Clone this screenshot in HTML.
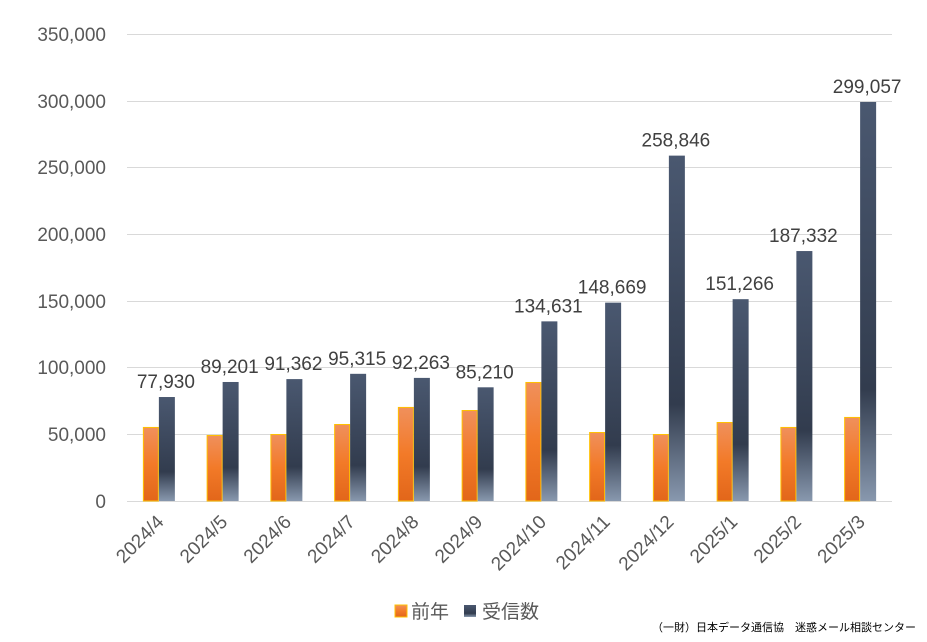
<!DOCTYPE html>
<html><head><meta charset="utf-8"><style>
body{margin:0;background:#fff;}
svg{display:block;font-family:"Liberation Sans","Noto Sans CJK JP",sans-serif;}
</style></head><body>
<svg width="927" height="642" viewBox="0 0 927 642" xmlns="http://www.w3.org/2000/svg">
<defs>
<linearGradient id="dk" x1="0" y1="0" x2="0" y2="1">
<stop offset="0" stop-color="#4a5870"/>
<stop offset="0.72" stop-color="#323c4e"/>
<stop offset="1" stop-color="#8898ae"/>
</linearGradient>
<linearGradient id="or" x1="0" y1="0" x2="0" y2="1">
<stop offset="0" stop-color="#f0905c"/>
<stop offset="0.5" stop-color="#f27a28"/>
<stop offset="1" stop-color="#e2661a"/>
</linearGradient>
<linearGradient id="lg" x1="0" y1="0" x2="0" y2="1">
<stop offset="0" stop-color="#4a5870"/>
<stop offset="0.7" stop-color="#323c4e"/>
<stop offset="1" stop-color="#8898ae"/>
</linearGradient>
</defs>
<g stroke="#d9d9d9" stroke-width="1">
<line x1="127" y1="34.5" x2="892" y2="34.5"/>
<line x1="127" y1="101.5" x2="892" y2="101.5"/>
<line x1="127" y1="167.5" x2="892" y2="167.5"/>
<line x1="127" y1="234.5" x2="892" y2="234.5"/>
<line x1="127" y1="301.5" x2="892" y2="301.5"/>
<line x1="127" y1="367.5" x2="892" y2="367.5"/>
<line x1="127" y1="434.5" x2="892" y2="434.5"/>
<line x1="127" y1="501.5" x2="892" y2="501.5"/>
</g>
<g fill="#595959" font-size="19" text-anchor="end">
<text x="106" y="41">350,000</text>
<text x="106" y="108">300,000</text>
<text x="106" y="174">250,000</text>
<text x="106" y="241">200,000</text>
<text x="106" y="308">150,000</text>
<text x="106" y="374">100,000</text>
<text x="106" y="441">50,000</text>
<text x="106" y="508">0</text>
</g>
<g id="bars"></g>
<g id="lbl" fill="#404040" font-size="19" text-anchor="middle"></g>
<g id="xl" fill="#595959" font-size="19" text-anchor="end"></g>
<rect x="395" y="605" width="12" height="12" fill="url(#or)" stroke="#ffc000"/>
<text x="411" y="618" font-size="19" fill="#595959">前年</text>
<rect x="464" y="605" width="12" height="12" fill="url(#lg)"/>
<text x="482" y="618" font-size="19" fill="#595959">受信数</text>
<text x="916" y="631" font-size="11" fill="#000" text-anchor="end">（一財）日本データ通信協　迷惑メール相談センター</text>
</svg>
<script>
var prev=[55500,49500,50200,57700,70500,68200,89200,51700,50200,59200,55500,63000];
var cur=[77930,89201,91362,95315,92263,85210,134631,148669,258846,151266,187332,299057];
var lab=["2024/4","2024/5","2024/6","2024/7","2024/8","2024/9","2024/10","2024/11","2024/12","2025/1","2025/2","2025/3"];
var ns="http://www.w3.org/2000/svg";
function y(v){return 501-v/350000*467;}
var b=document.getElementById("bars"),l=document.getElementById("lbl"),x=document.getElementById("xl");
function el(t,a,p){var e=document.createElementNS(ns,t);for(var k in a)e.setAttribute(k,a[k]);p.appendChild(e);return e;}
for(var i=0;i<12;i++){
var c=127+63.75*(i+0.5);
var yo=y(prev[i]);
el("rect",{x:c-15.5,y:yo+0.5,width:15,height:501-yo-0.5,fill:"url(#or)",stroke:"#ffc000","stroke-width":1},b);
var yd=y(cur[i]);
el("rect",{x:c,y:yd,width:16,height:501-yd,fill:"url(#dk)"},b);
var t=el("text",{x:c+7,y:yd-9},l);t.textContent=cur[i].toLocaleString("en-US");
var tx=el("text",{x:c+6,y:523,transform:"rotate(-45 "+(c+6)+" 523)"},x);tx.textContent=lab[i];
}
</script>
</body></html>
